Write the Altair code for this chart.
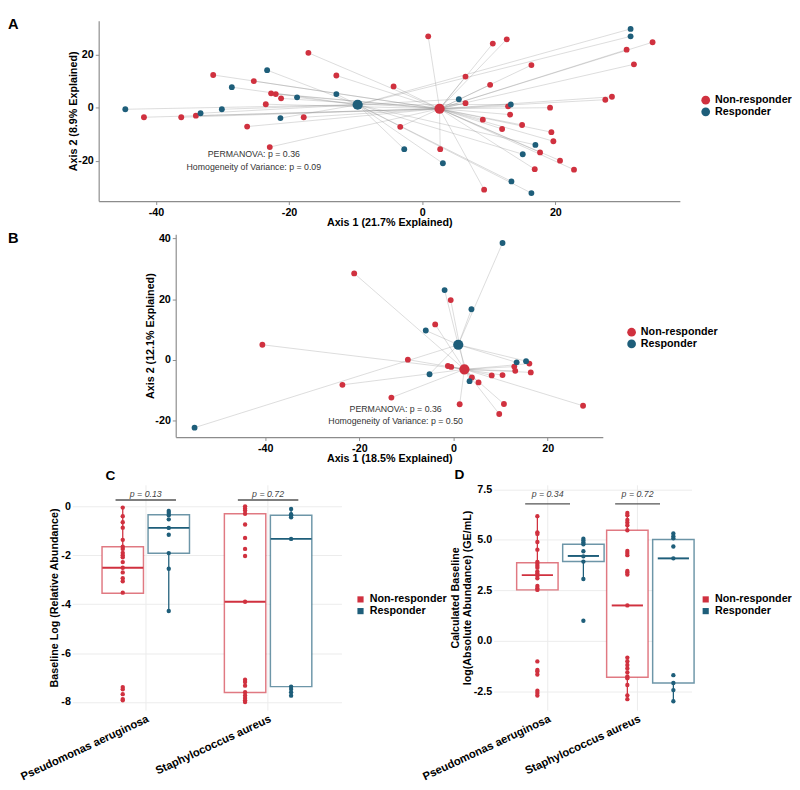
import altair as alt
import pandas as pd

RED = "#D0313F"
BLUE = "#1E5E7A"
FONT = "Liberation Sans"
GROUPS = ["Non-responder", "Responder"]
GROUP_COLORS = [RED, BLUE]
SPECIES = ["Pseudomonas aeruginosa", "Staphylococcus aureus"]

# ---------------- Panel A (ordination, 21.7% / 8.9%) ----------------
a_nr_x = [-41.8, -36.2, -34.0, -31.4, -25.3, -22.7, -22.0, -21.2, -23.5, -17.1, -12.9, -26.3, -17.8, -22.9,
          -4.3, -3.3, 0.9, 2.7, 6.5, 6.5, 9.3, 9.1, 10.2, 10.6, 12.0, 12.7, 16.4, 12.9, 19.2, 13.2, 15.0,
          19.4, 19.7, 17.7, 20.7, 22.8, 16.9, 34.6, 30.7, 31.8, 28.5, 27.5]
a_nr_y = [-3.6, -3.6, -3.0, 12.3, 10.0, 5.4, 5.1, 3.5, 1.3, 20.6, 12.1, -7.1, -3.6, -14.8,
          8.0, -7.2, 26.8, -15.6, 11.7, 1.7, -30.8, -4.5, 8.6, 24.1, -8.0, 25.7, 16.0, 0.5, 0.0, -2.6, -6.5,
          -9.2, -12.6, -16.8, -19.9, -23.3, -23.1, 24.6, 21.8, 16.3, 4.1, 3.0]
a_r_x = [-44.6, -33.3, -30.1, -28.6, -23.3, -18.8, -12.9, -21.3, -2.7, 3.1, 5.5, 13.3, 17.0, 15.1, 13.4,
         16.4, 31.3, 31.3]
a_r_y = [-0.6, -2.1, -0.6, 7.7, 14.1, 3.9, 5.1, -3.9, -15.6, -20.9, 3.2, 1.2, -14.0, -17.5, -27.7,
         -32.1, 29.6, 26.8]
a_centroid_x = [2.6, -9.7]
a_centroid_y = [-0.4, 1.1]
a_notes = ["PERMANOVA: p = 0.36", "Homogeneity of Variance: p = 0.09"]
a_notes_x = [-25.3, -25.3]
a_notes_y = [-17.4, -22.2]

# ---------------- Panel B (ordination, 18.5% / 12.1%) ----------------
b_nr_x = [-21.1, -0.6, -3.9, -40.6, -9.7, -1.2, -0.5, 3.9, 5.3, 8.1, 10.4, 12.9, 13.1, 16.1, 16.4,
          -23.6, -13.2, 1.3, 10.7, 9.7, 27.5]
b_nr_y = [28.5, 19.7, 11.7, 5.0, 0.1, -2.0, -2.3, -5.8, -7.4, -5.1, -5.0, -2.2, -3.6, -1.2, -4.1,
          -8.2, -12.4, -14.6, -14.5, -17.8, -15.1]
b_r_x = [10.4, -1.9, 3.8, -5.9, -5.1, 3.4, 13.4, 15.4, -55.0]
b_r_y = [38.5, 23.0, 16.7, 9.7, -4.7, -7.0, -0.8, -0.4, -22.3]
b_centroid_x = [2.3, 1.0]
b_centroid_y = [-3.1, 5.0]
b_notes = ["PERMANOVA: p = 0.36", "Homogeneity of Variance: p = 0.50"]
b_notes_x = [-12.3, -12.3]
b_notes_y = [-16.2, -20.2]

# ---------------- Panel C (relative abundance) ----------------
c_pa_nr = [-0.05, -0.40, -0.65, -0.87, -1.37, -1.65, -1.74, -1.90, -2.00, -2.08, -2.28, -2.51, -2.70,
           -2.94, -3.06, -3.53, -7.39, -7.48, -7.68, -7.88, -7.93]
c_pa_r = [-0.19, -0.27, -0.36, -0.53, -0.88, -1.16, -1.91, -2.55, -4.28]
c_sa_nr = [0.0, -0.09, -0.17, -0.30, -0.74, -1.29, -1.74, -2.03, -3.90, -7.09, -7.18, -7.33, -7.60,
           -7.73, -7.84, -7.93, -8.0]
c_sa_r = [-0.11, -0.32, -0.37, -0.45, -1.33, -7.37, -7.47, -7.60, -7.74]
box_species = [SPECIES[0], SPECIES[0], SPECIES[1], SPECIES[1]]
box_groups = [GROUPS[0], GROUPS[1], GROUPS[0], GROUPS[1]]
c_q1 = [-3.55, -1.92, -7.61, -7.37]
c_median = [-2.51, -0.88, -3.90, -1.33]
c_q3 = [-1.65, -0.34, -0.30, -0.36]
c_lo = [-3.55, -4.28, -8.0, -7.74]
c_hi = [-0.05, -0.19, 0.0, -0.11]
c_pvals = ["p = 0.13", "p = 0.72"]
c_bracket_y = [0.26, 0.26]
c_ptext_y = [0.52, 0.52]

# ---------------- Panel D (absolute abundance) ----------------
d_pa_nr = [6.17, 5.37, 5.29, 4.89, 4.51, 3.91, 3.81, 3.71, 3.62, 3.43, 3.33, 3.22, 3.09, 2.71, 2.60,
           2.52, -1.02, -1.44, -1.52, -1.67, -2.47, -2.58, -2.71]
d_pa_r = [5.05, 4.96, 4.86, 4.78, 4.43, 4.18, 3.92, 3.06, 0.99]
d_sa_nr = [6.33, 6.22, 5.98, 5.85, 5.72, 5.47, 4.45, 4.34, 4.24, 3.46, 3.38, 3.28, 1.75, -0.83, -1.01,
           -1.20, -1.37, -1.56, -1.77, -1.85, -2.19, -2.70, -2.89]
d_sa_r = [5.31, 5.18, 5.07, 4.67, 4.08, -1.70, -2.09, -2.44, -2.99]
d_q1 = [2.52, 3.92, -1.80, -2.09]
d_median = [3.25, 4.20, 1.75, 4.08]
d_q3 = [3.86, 4.78, 5.47, 5.01]
d_lo = [2.52, 3.06, -2.89, -2.99]
d_hi = [6.17, 5.05, 6.33, 5.31]
d_pvals = ["p = 0.34", "p = 0.72"]
d_bracket_y = [6.78, 6.78]
d_ptext_y = [7.24, 7.24]

SIGNED_INT = "datum.value < 0 ? '-' + format(-datum.value, 'd') : format(datum.value, 'd')"


def ordination_frames(nr_x, nr_y, r_x, r_y, cen_x, cen_y, notes, notes_x, notes_y):
    rows = []
    for k, (xs, ys) in enumerate(((nr_x, nr_y), (r_x, r_y))):
        for x, y in zip(xs, ys):
            rows.append({"group": GROUPS[k], "x": x, "y": y, "cx": cen_x[k], "cy": cen_y[k]})
    pts = pd.DataFrame(rows)
    cen = pd.DataFrame({"group": GROUPS, "x": cen_x, "y": cen_y})
    txt = pd.DataFrame({"text": notes, "x": notes_x, "y": notes_y})
    return pts, cen, txt


def ordination(frames, xdom, ydom, xvals, yvals, xtitle, ytitle, w, h, leg_x, leg_y):
    pts, cen, txt = frames
    common = dict(domainColor="#8c8c8c", domainWidth=1.2, tickColor="#8c8c8c", tickWidth=1, tickSize=3.5,
                  labelFont=FONT, labelFontSize=11, labelFontWeight="bold", labelColor="black",
                  labelPadding=2, titleFont=FONT, titleFontSize=11, titleFontWeight="bold",
                  titleColor="black", grid=False, labelExpr=SIGNED_INT, labelOverlap=False)
    xax = alt.Axis(values=xvals, title=xtitle, titlePadding=0, **common)
    yax = alt.Axis(values=yvals, title=ytitle, titlePadding=1, minExtent=20, maxExtent=20, **common)
    xs = alt.Scale(domain=xdom, nice=False, zero=False)
    ys = alt.Scale(domain=ydom, nice=False, zero=False)
    cs = alt.Scale(domain=GROUPS, range=GROUP_COLORS)
    leg = alt.Legend(title=None, orient="none", legendX=leg_x, legendY=leg_y, symbolType="circle",
                     symbolSize=80, symbolStrokeWidth=0, symbolOpacity=1, labelFont=FONT, labelFontSize=11,
                     labelFontWeight="bold", labelColor="black", labelOffset=4, rowPadding=0, padding=0)
    lines = alt.Chart(pts).mark_rule(color="#8a8a8a", strokeWidth=1, opacity=0.3).encode(
        x=alt.X("x:Q", scale=xs, axis=xax), y=alt.Y("y:Q", scale=ys, axis=yax), x2="cx:Q", y2="cy:Q")
    dots = alt.Chart(pts).mark_circle(size=36, opacity=1).encode(
        x="x:Q", y="y:Q", color=alt.Color("group:N", scale=cs, legend=leg))
    cdots = alt.Chart(cen).mark_circle(size=110, opacity=1).encode(
        x="x:Q", y="y:Q", color=alt.Color("group:N", scale=cs, legend=leg))
    notes = alt.Chart(txt).mark_text(font=FONT, fontSize=9, color="#333333").encode(
        x="x:Q", y="y:Q", text="text:N")
    return alt.layer(lines, dots, cdots, notes).properties(width=w, height=h)


def box_frames(pa_nr, pa_r, sa_nr, sa_r, q1, med, q3, lo, hi, pvals, by, ty):
    rows = []
    for sp, g, vals in ((SPECIES[0], GROUPS[0], pa_nr), (SPECIES[0], GROUPS[1], pa_r),
                        (SPECIES[1], GROUPS[0], sa_nr), (SPECIES[1], GROUPS[1], sa_r)):
        for v in vals:
            rows.append({"species": sp, "group": g, "value": v})
    pts = pd.DataFrame(rows)
    box = pd.DataFrame({"species": box_species, "group": box_groups, "q1": q1, "median": med,
                        "q3": q3, "lo": lo, "hi": hi})
    pv = pd.DataFrame({"species": SPECIES, "label": pvals, "by": by, "ty": ty})
    return pts, box, pv


def box_panel(frames, ydom, yvals, ylabel_expr, ytitle, w, h, label, label_dx, label_offset, leg_x, leg_y,
              box_px, bracket_px, y_extent):
    pts, box, pv = frames
    xs = alt.Scale(domain=SPECIES, paddingInner=0.21, paddingOuter=0.205)
    xo = alt.XOffset("group:N", scale=alt.Scale(domain=GROUPS, paddingInner=0.1, paddingOuter=0.1))
    ys = alt.Scale(domain=ydom, nice=False, zero=False)
    sc = alt.Scale(domain=GROUPS, range=GROUP_COLORS)
    xax = alt.Axis(title=None, labelAngle=335, labelAlign="right", labelBaseline="top", labelFont=FONT,
                   labelFontSize=11.5, labelFontWeight="bold", labelColor="black", labelPadding=3,
                   labelLimit=0, ticks=False, domain=False, grid=True, gridColor="#ebebeb", gridWidth=1,
                   bandPosition=0.5)
    yax = alt.Axis(values=yvals, labelExpr=ylabel_expr, title=ytitle, ticks=False, domain=False, grid=True,
                   gridColor="#ebebeb", gridWidth=1, labelFont=FONT, labelFontSize=11,
                   labelFontWeight="bold", labelColor="black", labelPadding=2, labelOverlap=False,
                   minExtent=y_extent, maxExtent=y_extent, titlePadding=1, titleFont=FONT,
                   titleFontSize=11, titleFontWeight="bold", titleColor="black", titleLineHeight=12)
    leg = alt.Legend(title=None, orient="none", legendX=leg_x, legendY=leg_y, symbolType="square",
                     symbolSize=40, symbolStrokeWidth=0, symbolOpacity=1, labelFont=FONT, labelFontSize=11,
                     labelFontWeight="bold", labelColor="black", labelOffset=4, rowPadding=0, padding=0)
    layers = []
    first = True
    for g, col in zip(GROUPS, GROUP_COLORS):
        base = alt.Chart(box).transform_filter(alt.datum.group == g)
        xenc = alt.X("species:N", scale=xs, axis=xax) if first else alt.X("species:N")
        yenc = alt.Y("lo:Q", scale=ys, axis=yax) if first else alt.Y("lo:Q")
        first = False
        whisk = base.mark_rule(strokeWidth=1.3, opacity=1, color=col).encode(
            x=xenc, xOffset=xo, y=yenc, y2="hi:Q")
        boxes = base.mark_bar(fill="white", stroke=col, strokeWidth=1.5, opacity=1, strokeOpacity=0.65).encode(
            x="species:N", xOffset=xo, y="q1:Q", y2="q3:Q")
        med = base.mark_tick(orient="horizontal", size=box_px, thickness=2, opacity=1, color=col).encode(
            x="species:N", xOffset=xo, y="median:Q")
        layers += [whisk, boxes, med]
    brackets = alt.Chart(pv).mark_tick(orient="horizontal", size=bracket_px, thickness=1.3, opacity=1,
                                       color="#555555").encode(x="species:N", y="by:Q")
    ptext = alt.Chart(pv).mark_text(font=FONT, fontSize=9, fontStyle="italic", color="#444444").encode(
        x="species:N", y="ty:Q", text="label:N")
    dots = alt.Chart(pts).mark_circle(size=20, opacity=1).encode(
        x="species:N", xOffset=xo, y="value:Q", color=alt.Color("group:N", scale=sc, legend=leg))
    layers += [brackets, ptext, dots]
    return alt.layer(*layers).properties(
        width=w, height=h,
        title=alt.TitleParams(text=label, anchor="start", frame="group", dx=label_dx, offset=label_offset,
                              font=FONT, fontSize=14, fontWeight="bold", color="black"))


def spacer(w, h, label=None):
    one = alt.Scale(domain=[0, 1])
    ch = alt.Chart(pd.DataFrame({"v": [0.5]})).mark_point(opacity=0, size=1).encode(
        x=alt.X("v:Q", axis=None, scale=one), y=alt.Y("v:Q", axis=None, scale=one))
    if label:
        return ch.properties(width=w, height=h, title=alt.TitleParams(
            text=label, anchor="start", frame="group", offset=-12, font=FONT, fontSize=15,
            fontWeight="bold", color="black"))
    return ch.properties(width=w, height=h)


panel_a = ordination(
    ordination_frames(a_nr_x, a_nr_y, a_r_x, a_r_y, a_centroid_x, a_centroid_y, a_notes, a_notes_x, a_notes_y),
    [-48.6, 38.7], [-35.1, 32.7], [-40, -20, 0, 20], [-20, 0, 20],
    "Axis 1 (21.7% Explained)", "Axis 2 (8.9% Explained)", 596, 185, 617, 76)

panel_b = ordination(
    ordination_frames(b_nr_x, b_nr_y, b_r_x, b_r_y, b_centroid_x, b_centroid_y, b_notes, b_notes_x, b_notes_y),
    [-59.0, 31.7], [-25.4, 41.4], [-40, -20, 0, 20], [-20, 0, 20, 40],
    "Axis 1 (18.5% Explained)", "Axis 2 (12.1% Explained)", 438, 208, 462, 95)

C_LABELS = ("datum.value % 2 == 0 ? (datum.value < 0 ? '-' + format(-datum.value, 'd') : "
            "format(datum.value, 'd')) : ''")
D_LABELS = ("datum.value % 2.5 == 0 ? (datum.value < 0 ? '-' + format(-datum.value, '.1f') : "
            "format(datum.value, '.1f')) : ''")

panel_c = box_panel(
    box_frames(c_pa_nr, c_pa_r, c_sa_nr, c_sa_r, c_q1, c_median, c_q3, c_lo, c_hi, c_pvals, c_bracket_y,
               c_ptext_y),
    [-8.33, 0.88], [-8, -7, -6, -5, -4, -3, -2, -1, 0], C_LABELS, "Baseline Log (Relative Abundance)",
    276, 231, "C", 34, 2, 290, 112, 42, 62, 12)

panel_d = box_panel(
    box_frames(d_pa_nr, d_pa_r, d_sa_nr, d_sa_r, d_q1, d_median, d_q3, d_lo, d_hi, d_pvals, d_bracket_y,
               d_ptext_y),
    [-3.43, 7.72], [-2.5, -1.25, 0, 1.25, 2.5, 3.75, 5, 6.25, 7.5], D_LABELS,
    ["Calculated Baseline", "log(Absolute Abundance) (GE/mL)"],
    203, 231, "D", -40, 2, 212, 112, 32, 46, 21)

RES = dict(color="independent")
row_a = alt.hconcat(spacer(61, 20, "A"), panel_a, spacing=0).resolve_scale(**RES)
row_b = alt.hconcat(spacer(140, 20, "B"), panel_b, spacing=0).resolve_scale(**RES)
row_cd = alt.hconcat(spacer(11, 10),
                     alt.hconcat(panel_c, panel_d, spacing=-27).resolve_scale(**RES),
                     spacing=0).resolve_scale(**RES)

chart = alt.vconcat(row_a, row_b, row_cd, spacing=3).resolve_scale(**RES).properties(
    padding=0).configure(font=FONT, background="white").configure_view(stroke=None)

chart.save("out.html", embed_options={"renderer": "svg", "actions": False})
